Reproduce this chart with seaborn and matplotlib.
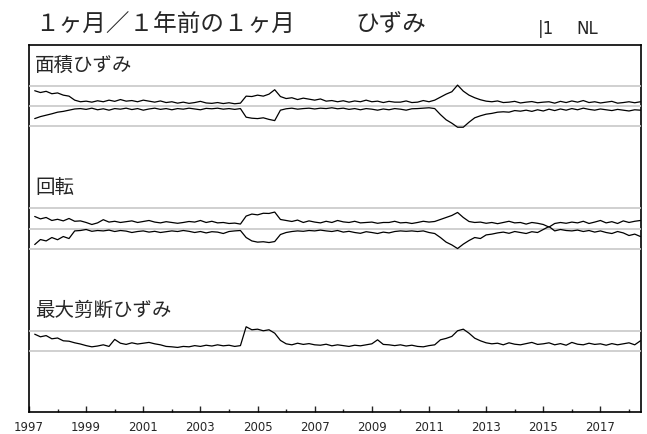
import numpy as np
import pandas as pd
import matplotlib
matplotlib.use('Agg')
import matplotlib.pyplot as plt
import seaborn as sns

# sampling: every 0.2 year from 1997.2 to 2018.4
years = np.round(1997.2 + 0.2 * np.arange(107), 1)

area_hi = [0.77, 0.68, 0.74, 0.62, 0.66, 0.55, 0.5, 0.3,
           0.22, 0.25, 0.2, 0.27, 0.22, 0.3, 0.24, 0.33,
           0.25, 0.28, 0.22, 0.3, 0.25, 0.2, 0.26, 0.18,
           0.22, 0.15, 0.2, 0.14, 0.18, 0.24, 0.16, 0.14,
           0.18, 0.13, 0.17, 0.12, 0.15,
           0.5, 0.48, 0.55, 0.5, 0.6, 0.82, 0.48,
           0.38, 0.42, 0.33, 0.4, 0.35, 0.3,
           0.36, 0.25, 0.28, 0.22, 0.27, 0.2, 0.26, 0.22,
           0.3, 0.22, 0.25, 0.18, 0.24, 0.2, 0.2, 0.26,
           0.18, 0.2, 0.28, 0.22,
           0.3, 0.45, 0.6, 0.72, 1.05, 0.75, 0.55, 0.42, 0.32, 0.25,
           0.22, 0.26, 0.18, 0.2, 0.24, 0.16, 0.2, 0.23, 0.17, 0.2,
           0.22, 0.15, 0.24, 0.18, 0.26, 0.2, 0.28, 0.18, 0.22, 0.16,
           0.2, 0.24, 0.15, 0.18, 0.22, 0.17, 0.22]
area_lo = [-0.62, -0.52, -0.45, -0.38, -0.3, -0.26, -0.2, -0.14,
           -0.12, -0.16, -0.1, -0.18, -0.13, -0.2, -0.12, -0.15,
           -0.1, -0.17, -0.12, -0.2, -0.14, -0.1, -0.16, -0.12,
           -0.18, -0.12, -0.15, -0.1, -0.14, -0.18, -0.11, -0.13,
           -0.1, -0.15, -0.12, -0.16, -0.12,
           -0.55, -0.6, -0.62, -0.58, -0.66, -0.72, -0.2,
           -0.13, -0.1, -0.15, -0.12, -0.1, -0.14,
           -0.1, -0.12, -0.08, -0.13, -0.1, -0.16, -0.12, -0.18,
           -0.12, -0.15, -0.2, -0.14, -0.18, -0.12, -0.15, -0.2,
           -0.13, -0.12, -0.1, -0.08,
           -0.12, -0.42, -0.68, -0.85, -1.05, -1.05, -0.8, -0.58, -0.48, -0.4,
           -0.36, -0.3, -0.28, -0.3, -0.22, -0.25, -0.2, -0.26, -0.18, -0.24,
           -0.15, -0.22, -0.14, -0.2, -0.12, -0.18, -0.1, -0.16, -0.2, -0.14,
           -0.18, -0.22, -0.16, -0.2, -0.24, -0.18, -0.2]
rot_hi = [0.6, 0.48, 0.55, 0.4, 0.46, 0.38, 0.5, 0.36,
          0.38, 0.3, 0.2, 0.28, 0.44, 0.32, 0.36, 0.3,
          0.34, 0.38, 0.3, 0.35, 0.4, 0.32, 0.28, 0.34,
          0.3, 0.26, 0.3, 0.35, 0.32, 0.4, 0.3, 0.36,
          0.28, 0.3, 0.25, 0.27, 0.22,
          0.62, 0.72, 0.68, 0.76, 0.75, 0.82, 0.45,
          0.4, 0.35, 0.42, 0.3, 0.38, 0.32,
          0.28, 0.36, 0.3, 0.4, 0.33, 0.3, 0.36, 0.28,
          0.3, 0.32, 0.26, 0.3, 0.3, 0.36, 0.28, 0.3,
          0.25, 0.3, 0.36, 0.32,
          0.35, 0.45, 0.55, 0.65, 0.8, 0.55, 0.35, 0.3, 0.32, 0.26,
          0.3, 0.24, 0.3, 0.36, 0.28, 0.3, 0.22, 0.3, 0.26, 0.2,
          0.07, 0.25, 0.3, 0.26, 0.32, 0.28, 0.36, 0.25, 0.32, 0.4,
          0.28, 0.34, 0.25, 0.38, 0.3, 0.36, 0.4]
rot_lo = [-0.8, -0.55, -0.62, -0.45, -0.56, -0.4, -0.5, -0.12,
          -0.1, -0.05, -0.14, -0.1, -0.12, -0.08, -0.15, -0.1,
          -0.13, -0.2, -0.15, -0.12, -0.18, -0.14, -0.2, -0.16,
          -0.12, -0.15, -0.1, -0.14, -0.2, -0.15, -0.22, -0.16,
          -0.18, -0.25, -0.15, -0.12, -0.1,
          -0.45, -0.62, -0.68, -0.66, -0.7, -0.65, -0.3,
          -0.2, -0.15, -0.12, -0.14, -0.1, -0.12,
          -0.08, -0.12, -0.15, -0.1, -0.18, -0.14, -0.2, -0.24,
          -0.16, -0.2, -0.25, -0.18, -0.22, -0.15, -0.12, -0.14,
          -0.12, -0.15, -0.12, -0.2,
          -0.25, -0.45, -0.68, -0.82, -1.0, -0.78, -0.6, -0.45, -0.5, -0.32,
          -0.28, -0.22, -0.18, -0.24, -0.15, -0.2, -0.25, -0.16, -0.2, -0.05,
          0.1, -0.12, -0.05, -0.1, -0.12, -0.08, -0.15, -0.1, -0.18, -0.12,
          -0.2, -0.25, -0.15, -0.22, -0.35, -0.28, -0.4]
shear = [0.83, 0.7, 0.76, 0.6, 0.64, 0.5, 0.48, 0.4,
         0.34, 0.26, 0.2, 0.24, 0.3, 0.22, 0.57, 0.38,
         0.32, 0.4, 0.34, 0.38, 0.42, 0.35, 0.3, 0.22,
         0.2, 0.17, 0.22, 0.2, 0.26, 0.22, 0.28, 0.24,
         0.3, 0.25, 0.28, 0.22, 0.26,
         1.2, 1.05, 1.08, 1.0, 1.05, 0.88, 0.52,
         0.35, 0.3, 0.38, 0.32, 0.36, 0.3,
         0.28, 0.33, 0.25, 0.3, 0.26, 0.22, 0.28, 0.25,
         0.3, 0.35, 0.55, 0.32, 0.3, 0.26, 0.3, 0.24,
         0.28, 0.22, 0.2, 0.26,
         0.3, 0.55, 0.62, 0.72, 1.0, 1.08, 0.88, 0.63, 0.5, 0.4,
         0.35, 0.38, 0.3, 0.4, 0.33, 0.3, 0.36, 0.42, 0.32, 0.35,
         0.4, 0.3, 0.36, 0.28, 0.42, 0.33, 0.3, 0.38, 0.32, 0.35,
         0.28, 0.36, 0.3, 0.35, 0.4, 0.3, 0.5]

panel_names = ['面積ひずみ', '回転', '最大剪断ひずみ']
panel_series = [[area_hi, area_lo], [rot_hi, rot_lo], [shear]]
panel_guides = [[-1, 0, 1], [-1, 0, 1], [0, 1]]
year_labels = list(range(1997, 2019, 2))

sns.set_style('white')
plt.rcParams['font.family'] = ['Noto Sans CJK JP', 'DejaVu Sans']

fig = plt.figure(figsize=(6.47, 4.35), dpi=100, facecolor='white')
L, R = 29 / 647, 641 / 647
B, T = 1 - 413 / 435, 1 - 46 / 435
xlim = (1997, 2018.42)

# outer box with the year axis
frame = fig.add_axes([L, B, R - L, T - B])
frame.set_xlim(*xlim)
frame.set_ylim(0, 1)
frame.set_yticks([])
frame.set_xticks(year_labels)
frame.set_xticks(range(1998, 2019, 2), minor=True)
frame.set_xticklabels([str(y) for y in year_labels], family='DejaVu Sans', fontsize=8.5)
frame.tick_params(axis='x', which='major', direction='in', length=4.5, width=1, pad=5.5, bottom=True)
frame.tick_params(axis='x', which='minor', direction='in', length=2.4, width=1, bottom=True)
for s in frame.spines.values():
    s.set_color('black')
    s.set_linewidth(1.2)

h = (T - B) / 3
for k, name in enumerate(panel_names):
    ax = fig.add_axes([L, T - (k + 1) * h, R - L, h])
    ax.patch.set_alpha(0)
    ax.set_xlim(*xlim)
    ax.set_ylim(-3.05, 3.05)
    ax.axis('off')
    for g in panel_guides[k]:
        ax.axhline(g, color='#c8c8c8', lw=1.2, zorder=1)
    for vals in panel_series[k]:
        df = pd.DataFrame({'year': years, 'value': vals})
        sns.lineplot(data=df, x='year', y='value', ax=ax, color='black', lw=0.9, zorder=3)
    ax.text(0.01, 0.84, name, transform=ax.transAxes, fontsize=14, va='center', ha='left')

fig.text(35 / 647, 1 - 25 / 435, '１ヶ月／１年前の１ヶ月', fontsize=17, va='center', ha='left')
fig.text(355 / 647, 1 - 25 / 435, 'ひずみ', fontsize=17, va='center', ha='left')
fig.text(538 / 647, 1 - 29 / 435, '|1', fontsize=12, va='center', ha='left', family='DejaVu Sans')
fig.text(576 / 647, 1 - 29 / 435, 'NL', fontsize=12, va='center', ha='left', family='DejaVu Sans')

fig.savefig('out.png', dpi=100, facecolor='white')
